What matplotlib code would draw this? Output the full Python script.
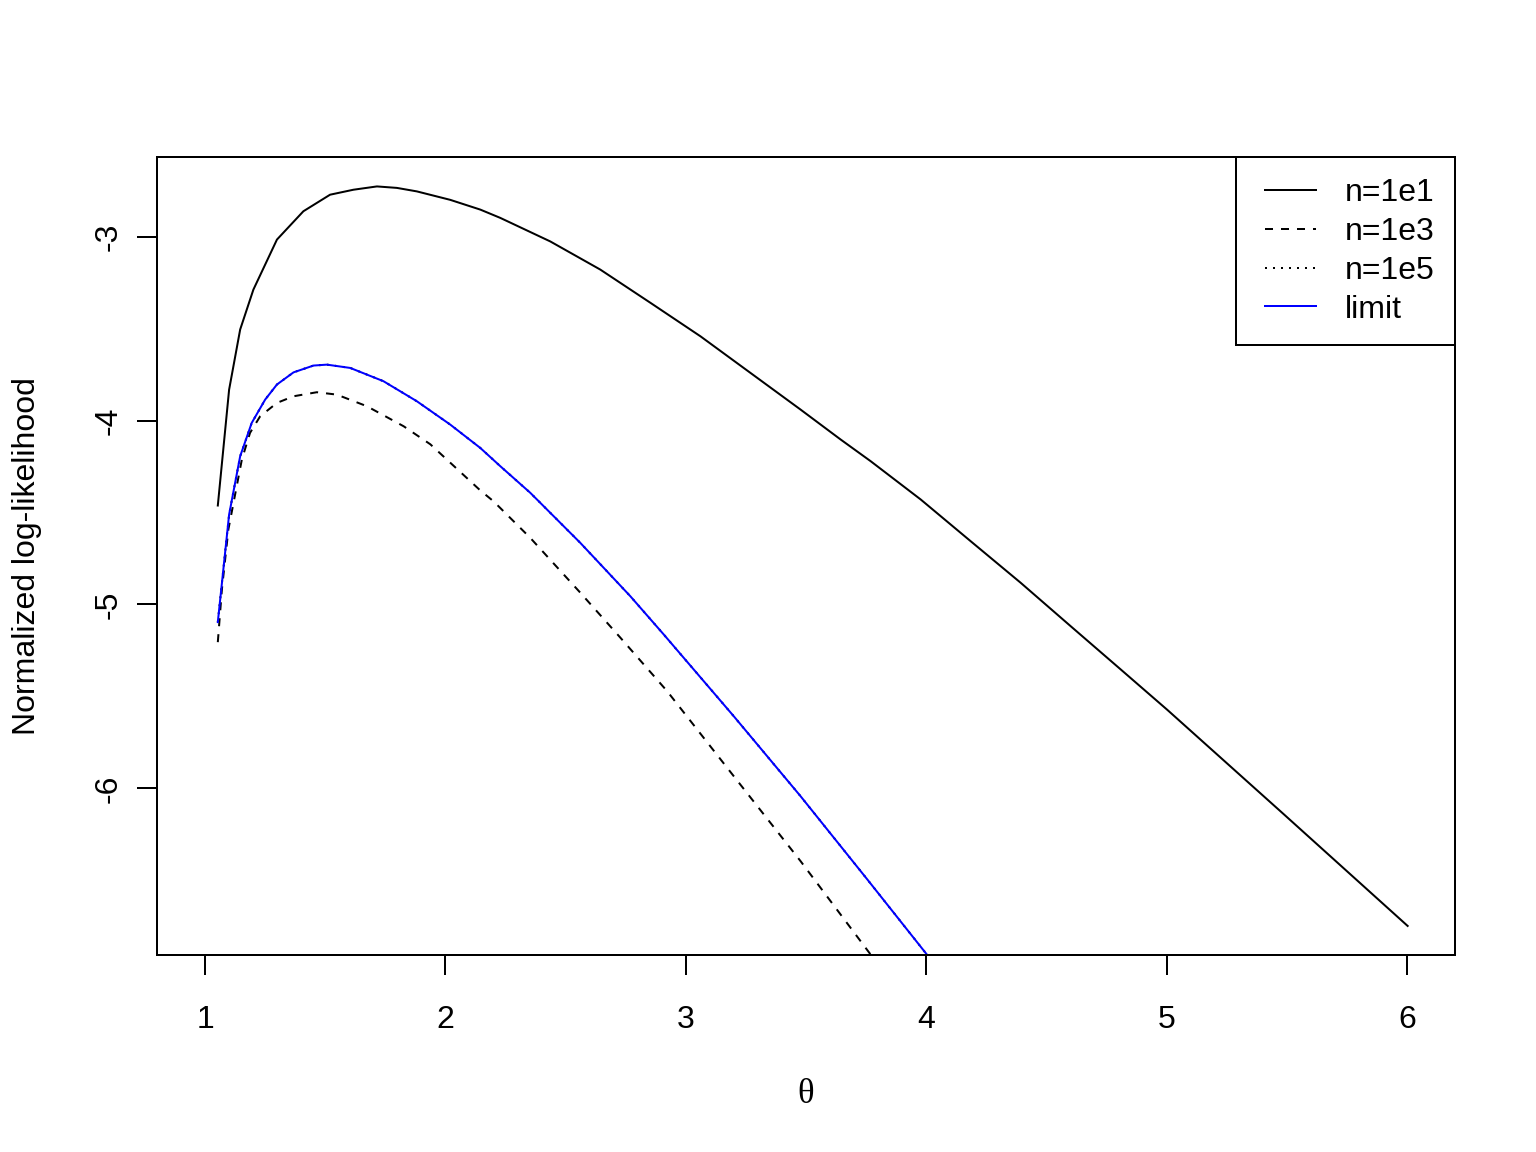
import matplotlib
matplotlib.use("Agg")
import matplotlib.pyplot as plt
from matplotlib.lines import Line2D
from matplotlib.legend_handler import HandlerLine2D

plt.rcParams['font.family'] = ['Liberation Sans', 'DejaVu Sans']

# values
theta_n1 = [1.053, 1.100, 1.146, 1.201, 1.299, 1.409, 1.520, 1.617, 1.715, 1.798,
            1.881, 2.020, 2.145, 2.228, 2.436, 2.644, 2.853, 3.061, 3.269, 3.477,
            3.644, 3.769, 3.977, 4.185, 4.393, 4.601, 4.809, 5.004, 5.488, 6.003]
ll_n1 = [-4.462, -3.832, -3.505, -3.288, -3.016, -2.862, -2.772, -2.745, -2.727, -2.735,
         -2.754, -2.800, -2.853, -2.898, -3.026, -3.179, -3.360, -3.542, -3.741, -3.940,
         -4.103, -4.221, -4.429, -4.656, -4.882, -5.118, -5.353, -5.574, -6.141, -6.748]

theta_n3 = [1.053, 1.070, 1.097, 1.153, 1.187, 1.229, 1.299, 1.368, 1.465, 1.548,
            1.673, 1.826, 1.937, 2.145, 2.200, 2.353, 2.561, 2.728, 2.922, 3.199,
            3.477, 3.768]
ll_n3 = [-5.205, -4.918, -4.592, -4.212, -4.067, -3.977, -3.904, -3.868, -3.846, -3.859,
         -3.922, -4.031, -4.129, -4.380, -4.439, -4.638, -4.936, -5.181, -5.471, -5.933,
         -6.395, -6.902]

theta_lim = [1.053, 1.076, 1.100, 1.146, 1.194, 1.250, 1.299, 1.368, 1.451, 1.507,
             1.604, 1.742, 1.881, 2.020, 2.145, 2.228, 2.353, 2.561, 2.769, 2.908,
             3.199, 3.477, 3.755, 4.002]
ll_lim = [-5.096, -4.810, -4.511, -4.194, -4.013, -3.886, -3.804, -3.738, -3.701, -3.696,
          -3.714, -3.786, -3.895, -4.022, -4.149, -4.248, -4.393, -4.665, -4.955, -5.163,
          -5.607, -6.042, -6.495, -6.902]

# n=1e5 lies on top of the limit curve
theta_n5 = list(theta_lim)
ll_n5 = list(ll_lim)

labels = ["n=1e1", "n=1e3", "n=1e5", "limit"]

fig = plt.figure(figsize=(8, 6), dpi=192)
ax = fig.add_axes([157/1536, 1 - 955/1152, (1455 - 157)/1536, (955 - 157)/1152])

lw = 0.75
ax.plot(theta_n1, ll_n1, color='black', lw=lw, label=labels[0])
ax.plot(theta_n3, ll_n3, color='black', lw=lw, dashes=(4, 4), label=labels[1])
ax.plot(theta_n5, ll_n5, color='black', lw=lw, dashes=(1, 3), label=labels[2])
ax.plot(theta_lim, ll_lim, color='blue', lw=lw, label=labels[3])

ax.set_xlim(0.8, 6.2)
ax.set_ylim(-6.906, -2.567)
ax.set_xticks([1, 2, 3, 4, 5, 6])
ax.set_yticks([-6, -5, -4, -3])
ax.set_yticklabels(['-6', '-5', '-4', '-3'], rotation=90, va='center')

for s in ax.spines.values():
    s.set_linewidth(lw)
ax.tick_params(direction='out', length=7.5, width=lw, labelsize=12, color='black')
ax.tick_params(axis='x', pad=11.25)
ax.tick_params(axis='y', pad=5)

ax.set_xlabel('θ', family=['Liberation Serif', 'DejaVu Serif'], fontsize=13, labelpad=16)
ax.set_ylabel('Normalized log-likelihood', fontsize=12, labelpad=19.5)

leg = ax.legend(loc='upper right', fontsize=12, fancybox=False, framealpha=1,
                edgecolor='black', borderaxespad=0, handlelength=1.86,
                handletextpad=0.875, borderpad=0.65, labelspacing=0.28,
                handler_map={Line2D: HandlerLine2D(xpad=0.26)})
leg.get_frame().set_linewidth(lw)

fig.savefig('out.png', dpi=192)
